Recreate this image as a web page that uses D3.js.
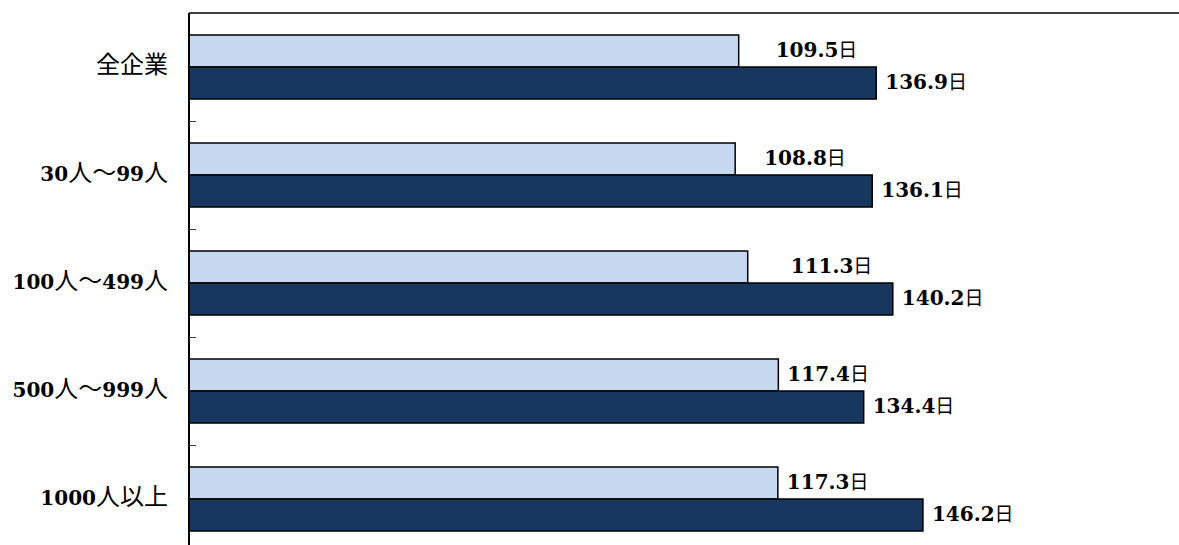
<!DOCTYPE html>
<html lang="ja">
    <head>
        <meta charset="utf-8">
        <title>企業規模別 日数</title>
        <script src="https://d3js.org/d3.v7.min.js"></script>
        <style type="text/css">
            body { margin: 0; background: #fff; }
            .num { font-family: "DejaVu Serif", serif; font-weight: bold; }
            .jp { font-family: "Noto Sans CJK JP", sans-serif; font-weight: normal; }
        </style>
    </head>
    <body>
        <script type="text/javascript">

            //Data
            const categories = ["全企業", "30人～99人", "100人～499人", "500人～999人", "1000人以上"];
            const seriesA = [109.5, 108.8, 111.3, 117.4, 117.3]; // light bars
            const seriesB = [136.9, 136.1, 140.2, 134.4, 146.2]; // dark bars
            const unit = "日";
            // hand-moved light labels in the original (extra px to the right)
            const nudgeA = [28, 20, 34, 0, 0];

            //declare consts
            const w = 1179;
            const h = 545;
            const plotLeft = 189;
            const plotTop = 13;

            const svg = d3.select("body")
                    .append("svg")
                    .attr("width", w)
                    .attr("height", h);

            //scales
            const x = d3.scaleLinear().domain([0, 200]).range([plotLeft, plotLeft + 1004]);
            const y = d3.scaleBand().domain(categories).range([plotTop, plotTop + 5 * 108]);
            const sub = d3.scaleBand().domain(["a", "b"]).range([0, y.bandwidth()])
                            .paddingInner(0).paddingOuter(0.6875);

            const colors = {a: "#c6d9f1", b: "#17375e"};

            const rows = categories.map((c, i) => ({
                cat: c,
                vals: [{key: "a", v: seriesA[i], nudge: nudgeA[i]}, {key: "b", v: seriesB[i], nudge: 0}]
            }));

            //mixed font text: digits bold serif, kanji sans
            function richText(sel, str, numSize, jpSize) {
                const parts = str.match(/[0-9.]+|[^0-9.]+/g);
                parts.forEach(p => {
                    const isNum = /^[0-9.]+$/.test(p);
                    sel.append("tspan")
                        .attr("class", isNum ? "num" : "jp")
                        .style("font-size", (isNum ? numSize : jpSize) + "px")
                        .text(p);
                });
            }

            const groups = svg.selectAll("g.row")
                            .data(rows)
                            .enter()
                            .append("g")
                            .attr("class", "row")
                            .attr("transform", d => "translate(0," + y(d.cat) + ")");

            groups.selectAll("rect")
                .data(d => d.vals)
                .enter()
                .append("rect")
                .attr("x", x(0))
                .attr("y", d => sub(d.key))
                .attr("width", d => x(d.v) - x(0))
                .attr("height", sub.bandwidth())
                .attr("fill", d => colors[d.key])
                .attr("stroke", "#000")
                .attr("stroke-width", 1.5);

            //value labels
            groups.selectAll("text.val")
                .data(d => d.vals)
                .enter()
                .append("text")
                .attr("class", "val")
                .attr("x", d => x(d.v) + 9 + d.nudge)
                .attr("y", d => sub(d.key) + sub.bandwidth() / 2)
                .attr("dy", "0.36em")
                .attr("fill", "#000")
                .each(function(d) {
                    richText(d3.select(this), d3.format(".1f")(d.v) + unit, 20, 19);
                });

            //category labels
            groups.append("text")
                .attr("x", plotLeft - 21)
                .attr("y", y.bandwidth() / 2)
                .attr("dy", "0.36em")
                .attr("text-anchor", "end")
                .attr("fill", "#000")
                .each(function(d) { richText(d3.select(this), d.cat, 20, 24); });

            //axis: left line with inner ticks, top border
            svg.append("line")
                .attr("x1", plotLeft).attr("x2", plotLeft)
                .attr("y1", plotTop).attr("y2", h)
                .attr("stroke", "#000").attr("stroke-width", 2);
            svg.append("line")
                .attr("x1", plotLeft).attr("x2", x(200))
                .attr("y1", plotTop).attr("y2", plotTop)
                .attr("stroke", "#000").attr("stroke-width", 1.5);
            svg.selectAll("line.tick")
                .data(categories.slice(1))
                .enter()
                .append("line")
                .attr("class", "tick")
                .attr("x1", plotLeft).attr("x2", plotLeft + 7)
                .attr("y1", d => Math.round(y(d)) + 0.5)
                .attr("y2", d => Math.round(y(d)) + 0.5)
                .attr("stroke", "#444").attr("stroke-width", 1);

        </script>
    </body>
</html>
